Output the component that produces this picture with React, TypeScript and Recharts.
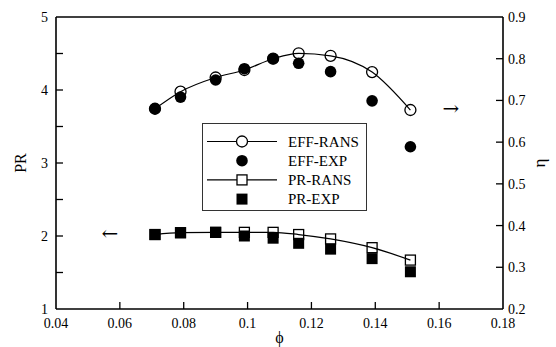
import {
  ComposedChart,
  Line,
  Scatter,
  XAxis,
  YAxis,
  ReferenceLine,
  ReferenceDot,
  Legend,
} from 'recharts';

const phi = [0.071, 0.079, 0.09, 0.099, 0.108, 0.116, 0.126, 0.139, 0.151];
const effRans = [0.68, 0.721, 0.755, 0.773, 0.8, 0.813, 0.807, 0.768, 0.677];
const effExp = [0.68, 0.708, 0.749, 0.776, 0.8, 0.789, 0.769, 0.699, 0.589];
const prRans = [2.02, 2.045, 2.05, 2.05, 2.05, 2.02, 1.96, 1.84, 1.67];
const prExp = [2.02, 2.045, 2.05, 2.0, 1.97, 1.9, 1.82, 1.69, 1.51];

const xTicks = [0.04, 0.06, 0.08, 0.1, 0.12, 0.14, 0.16, 0.18];
const prTicks = [1, 1.5, 2, 2.5, 3, 3.5, 4, 4.5, 5];
const etaTicks = [0.2, 0.3, 0.4, 0.5, 0.6, 0.7, 0.8, 0.9];

const legendItems = [
  { name: 'EFF-RANS', marker: 'circle', filled: false, line: true },
  { name: 'EFF-EXP', marker: 'circle', filled: true, line: false },
  { name: 'PR-RANS', marker: 'square', filled: false, line: true },
  { name: 'PR-EXP', marker: 'square', filled: true, line: false },
];

const FONT = "'Liberation Serif', 'Times New Roman', serif";
const TICK = 7;

const toRows = (vals: number[]) => phi.map((x, i) => ({ x, v: vals[i] }));

// open markers have no fill so the experimental points show through
const OpenSquare = (p: any) => (
  <rect key={p.key} x={p.cx - 5} y={p.cy - 5} width={10} height={10} fill="none" stroke="#000" strokeWidth={1.3} />
);
const OpenCircle = (p: any) => (
  <circle key={p.key} cx={p.cx} cy={p.cy} r={5.5} fill="none" stroke="#000" strokeWidth={1.3} />
);
const DotFilled = (p: any) => <circle cx={p.cx} cy={p.cy} r={5.8} fill="#000" />;
const SquareFilled = (p: any) => <rect x={p.cx - 5.5} y={p.cy - 5.5} width={11} height={11} fill="#000" />;

const LeftTick = ({ x, y, payload }: any) => {
  const v = payload.value;
  const end = v === 1 || v === 5;
  return (
    <g>
      {!end && <line x1={x} x2={x + TICK} y1={y} y2={y} stroke="#000" strokeWidth={1.3} />}
      {Number.isInteger(v) && (
        <text x={x - 8} y={y + 5} textAnchor="end" fontSize={14} style={{ fontFamily: FONT }} fill="#000">
          {v}
        </text>
      )}
    </g>
  );
};

const RightTick = ({ x, y, payload }: any) => {
  const v = payload.value;
  const end = v === 0.2 || v === 0.9;
  return (
    <g>
      {!end && <line x1={x} x2={x - TICK} y1={y} y2={y} stroke="#000" strokeWidth={1.3} />}
      <text x={x + 5} y={y + 5} textAnchor="start" fontSize={14} style={{ fontFamily: FONT }} fill="#000">
        {v.toFixed(1)}
      </text>
    </g>
  );
};

const BottomTick = ({ x, y, payload }: any) => {
  const v = payload.value;
  const end = v === 0.04 || v === 0.18;
  return (
    <g>
      {!end && <line x1={x} x2={x} y1={y} y2={y - TICK} stroke="#000" strokeWidth={1.3} />}
      <text x={x} y={y + 19} textAnchor="middle" fontSize={14} style={{ fontFamily: FONT }} fill="#000">
        {String(v)}
      </text>
    </g>
  );
};

const LegendBox = () => (
  <svg width={165} height={88} style={{ display: 'block' }}>
    <rect x={0.5} y={0.5} width={164} height={87} fill="#fff" stroke="#333" strokeWidth={1} />
    {legendItems.map((it, i) => {
      const cy = 18.5 + i * 19.2;
      return (
        <g key={it.name}>
          {it.line && <line x1={5} x2={75} y1={cy} y2={cy} stroke="#000" strokeWidth={1.2} />}
          {it.marker === 'circle' ? (
            it.filled ? (
              <DotFilled cx={40} cy={cy} />
            ) : (
              <circle cx={40} cy={cy} r={5.5} fill="#fff" stroke="#000" strokeWidth={1.3} />
            )
          ) : it.filled ? (
            <SquareFilled cx={40} cy={cy} />
          ) : (
            <rect x={35} y={cy - 5} width={10} height={10} fill="#fff" stroke="#000" strokeWidth={1.3} />
          )}
          <text x={86} y={cy + 5} fontSize={15} style={{ fontFamily: FONT }} fill="#000">
            {it.name}
          </text>
        </g>
      );
    })}
  </svg>
);

const arrowShape = (ch: string) => (p: any) => (
  <text x={p.cx} y={p.cy + 6} textAnchor="middle" fontSize={20} style={{ fontFamily: "'DejaVu Serif', serif" }} fill="#000">
    {ch}
  </text>
);

export default function App() {
  const axisLine = { stroke: '#000', strokeWidth: 1.6 };
  return (
    <div style={{ position: 'absolute', left: 0, top: 0 }}>
      <ComposedChart
        width={556}
        height={347}
        margin={{ top: 17, right: 0, bottom: 0, left: 0 }}
        style={{ fontFamily: FONT }}
      >
        <XAxis
          type="number"
          dataKey="x"
          domain={[0.04, 0.18]}
          ticks={xTicks}
          interval={0}
          height={38}
          tickSize={0}
          tickMargin={0}
          tickLine={false}
          tick={BottomTick}
          axisLine={axisLine}
          allowDataOverflow
          label={{ value: 'ϕ', position: 'center', dy: 9, fontSize: 16, fill: '#000' }}
        />
        <YAxis
          yAxisId="left"
          type="number"
          domain={[1, 5]}
          ticks={prTicks}
          interval={0}
          width={56}
          tickSize={0}
          tickMargin={0}
          tickLine={false}
          tick={LeftTick}
          axisLine={axisLine}
          label={{ value: 'PR', angle: -90, position: 'center', dx: -8, fontSize: 16, fill: '#000' }}
        />
        <YAxis
          yAxisId="right"
          orientation="right"
          type="number"
          domain={[0.2, 0.9]}
          ticks={etaTicks}
          interval={0}
          width={53}
          tickSize={0}
          tickMargin={0}
          tickLine={false}
          tick={RightTick}
          axisLine={axisLine}
          label={{ value: 'η', angle: -90, position: 'center', dx: 9, fontSize: 17, fill: '#000' }}
        />
        <ReferenceLine yAxisId="left" y={5} stroke="#000" strokeWidth={1.6} />

        <Scatter yAxisId="right" data={toRows(effExp)} dataKey="v" shape={DotFilled} isAnimationActive={false} />
        <Scatter yAxisId="left" data={toRows(prExp)} dataKey="v" shape={SquareFilled} isAnimationActive={false} />
        <Line
          yAxisId="right"
          data={toRows(effRans)}
          dataKey="v"
          type="monotone"
          stroke="#000"
          strokeWidth={1.2}
          dot={OpenCircle}
          isAnimationActive={false}
        />
        <Line
          yAxisId="left"
          data={toRows(prRans)}
          dataKey="v"
          type="monotone"
          stroke="#000"
          strokeWidth={1.2}
          dot={OpenSquare}
          isAnimationActive={false}
        />

        <ReferenceDot yAxisId="right" x={0.1637} y={0.68} r={0} shape={arrowShape('→')} />
        <ReferenceDot yAxisId="left" x={0.0569} y={2.03} r={0} shape={arrowShape('←')} />

        <Legend
          layout="vertical"
          align="center"
          verticalAlign="middle"
          content={LegendBox}
          wrapperStyle={{ position: 'absolute', left: 202, top: 123, width: 165, height: 88 }}
        />
      </ComposedChart>
    </div>
  );
}
